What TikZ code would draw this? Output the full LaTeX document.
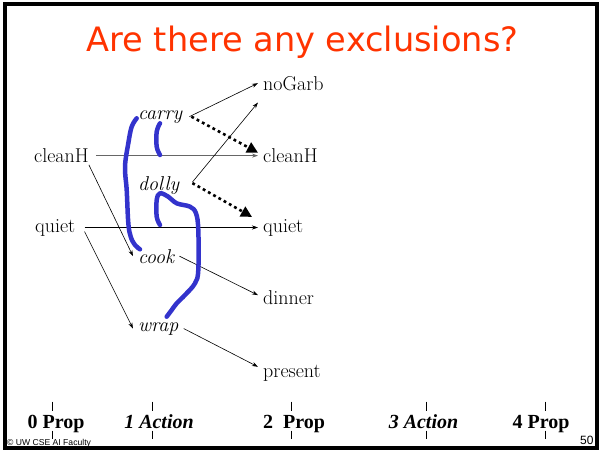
\documentclass[tikz,border=0pt]{standalone}
\usepackage{fontspec}
\usetikzlibrary{arrows.meta}
\newfontfamily\titlefont{DejaVu Sans}
\newfontfamily\axisfont{Liberation Serif}
\newfontfamily\footfont{Liberation Sans}
\definecolor{titlered}{RGB}{255,51,0}
\definecolor{penblue}{RGB}{51,51,204}
\newcommand{\propsize}{\fontsize{20}{24}\selectfont}
\tikzset{prop/.style={anchor=base west,inner xsep=5pt,inner ysep=2pt,font=\propsize},
  act/.style={prop,font=\propsize\itshape},
  arr/.style={-{Stealth[length=6pt,width=4pt]},line width=0.6pt},
  mutexarr/.style={line width=2.6pt,dash pattern=on 2.8pt off 3.2pt,-{Triangle[length=11pt,width=11pt]}},
  scribble/.style={draw=penblue,line width=4.5pt,line cap=round,line join=round},
  tickmark/.style={line width=1pt},
  level/.style={anchor=base,font=\axisfont\fontsize{20}{24}\selectfont\bfseries}}

\begin{document}
\begin{tikzpicture}[x=1pt,y=-1pt]
\useasboundingbox (0,0) rectangle (600,450);
\node[anchor=base,text=titlered,font=\titlefont\fontsize{33.6}{40}\selectfont] (title) at (302.5,51){Are there any exclusions?};
% level 0 and 2: propositions
\node[prop] (cleanH0) at (29,162.5){cleanH};
\node[prop] (quiet0) at (30,232){quiet};
\node[prop] (noGarb2) at (258,90){noGarb};
\node[prop] (cleanH2) at (258,162.5){cleanH};
\node[prop] (quiet2) at (258,232){quiet};
\node[prop] (dinner2) at (258,304){dinner};
\node[prop] (present2) at (258,377){present};
% level 1: actions
\node[act] (carry) at (133,119){carry};
\node[act] (dolly) at (133,190){dolly};
\node[act] (cook) at (133,263){cook};
\node[act] (wrap) at (133,331){wrap};
% connectors
\draw[arr,black!60] ([xshift=2pt]cleanH0.east) -- (cleanH2.west);
\draw[arr] ([xshift=4pt]quiet0.east) -- (quiet2.west);
\draw[arr] ([xshift=-5pt]cleanH0.south east) -- (cook.west);
\draw[arr] ([xshift=4pt,yshift=-4pt]quiet0.east) -- (wrap.west);
\draw[arr] ([xshift=2pt]carry.east) -- (noGarb2.west);
\draw[arr] ([xshift=8pt,yshift=3pt]dolly.east) -- ([yshift=-10pt]noGarb2.south west);
\draw[arr] (cook.east) -- ([yshift=2pt]dinner2.west);
\draw[arr] (wrap.east) -- ([yshift=6pt]present2.west);
\draw[mutexarr] ([xshift=4pt]carry.east) -- ([yshift=3pt]cleanH2.west);
\draw[mutexarr] ([xshift=8pt,yshift=2pt]dolly.east) -- ([xshift=-6pt]quiet2.north west);
% hand-drawn marks
\draw[scribble] plot[smooth,tension=0.6] coordinates {(136.7,118.3) (131.7,126.7) (128.3,143.3) (125,166.7) (126.7,190) (128.3,223) (130.7,236.7) (135,245) (140,249.3)};
\draw[scribble] plot[smooth,tension=0.6] coordinates {(160,123.3) (156.7,131.7) (156.7,146.7) (160,155)};
\draw[scribble] plot[smooth,tension=0.6] coordinates {(160,225) (156.7,216.7) (156.7,200) (160,193.3) (168.3,196.7) (176.7,203.3) (190,206.7) (196,213.3) (198.3,230) (198.3,270) (195,283.3) (185,295) (176.7,303.3) (171.7,310) (166.7,316.7)};
% levels along the bottom
\foreach \tx/\cx/\name/\lbl in {52.3/56/lvl0/{0 Prop},152.3/159/lvl1/{\itshape 1 Action},291.7/294/lvl2/{2\ \ Prop},426/423.5/lvl3/{\itshape 3 Action},545.7/541/lvl4/{4 Prop}}{
  \node[level] (\name) at (\cx,428){\lbl};
  \draw[tickmark] (\tx,401.7) -- (\tx,410.7);
  \draw[tickmark] (\tx,430.7) -- (\tx,439);
}
\node[anchor=base west,inner sep=0pt,font=\footfont\fontsize{8.6}{10}\selectfont] (credit) at (7,445){© UW CSE AI Faculty};
\node[anchor=base west,inner sep=0pt,font=\footfont\fontsize{12}{14}\selectfont] (pageno) at (580,444.5){50};
\draw[line width=4pt] (4.7,3.7) rectangle (597,448);
\end{tikzpicture}
\end{document}
